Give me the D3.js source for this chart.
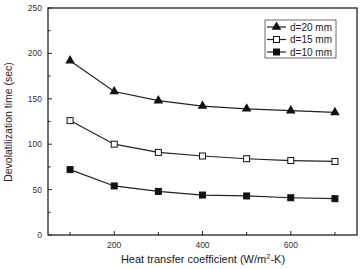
<!DOCTYPE html>
<html>
<head>
<meta charset="utf-8">
<script src="https://cdn.jsdelivr.net/npm/d3@7"></script>
<style>
  body { margin: 0; background: #fff; }
  svg text { font-family: "Liberation Sans", Arial, sans-serif; fill: #222; }
</style>
</head>
<body>
<svg width="362" height="269"></svg>
<script>
var hValues = [100, 200, 300, 400, 500, 600, 700];
var d20 = [192, 158, 148, 142, 139, 137, 135];
var d15 = [126, 100, 91, 87, 84, 82, 81];
var d10 = [72, 54, 48, 44, 43, 41, 40];
var seriesNames = ["d=20 mm", "d=15 mm", "d=10 mm"];
var xTicks = [100, 200, 300, 400, 500, 600, 700];
var xLabels = [200, 400, 600];
var yTicks = [0, 50, 100, 150, 200, 250];
var yMinor = [25, 75, 125, 175, 225];

var svg = d3.select("svg"),
    margin = {top: 8, right: 5, bottom: 34, left: 48},
    width = 362 - margin.left - margin.right,
    height = 269 - margin.top - margin.bottom;

var x = d3.scaleLinear().domain([50, 750]).range([0, width]);
var y = d3.scaleLinear().domain([0, 250]).range([height, 0]);

var g = svg.append("g")
    .attr("transform", "translate(" + margin.left + "," + margin.top + ")");

// frame
g.append("rect")
    .attr("width", width)
    .attr("height", height)
    .attr("fill", "none")
    .attr("stroke", "#222")
    .attr("stroke-width", 1.3);

// x ticks (inward)
g.selectAll(".xtick").data(xTicks).enter().append("line")
    .attr("x1", function(d) { return x(d); })
    .attr("x2", function(d) { return x(d); })
    .attr("y1", height)
    .attr("y2", function(d) { return xLabels.indexOf(d) >= 0 ? height - 4 : height - 3; })
    .attr("stroke", "#222");

g.selectAll(".xlab").data(xLabels).enter().append("text")
    .attr("x", function(d) { return x(d); })
    .attr("y", height + 13)
    .attr("text-anchor", "middle")
    .style("font-size", "8.5px")
    .style("fill", "#333")
    .text(function(d) { return d; });

// y ticks (inward)
g.selectAll(".ytick").data(yTicks).enter().append("line")
    .attr("x1", 0).attr("x2", 4)
    .attr("y1", function(d) { return y(d); })
    .attr("y2", function(d) { return y(d); })
    .attr("stroke", "#222");

g.selectAll(".yminor").data(yMinor).enter().append("line")
    .attr("x1", 0).attr("x2", 2.5)
    .attr("y1", function(d) { return y(d); })
    .attr("y2", function(d) { return y(d); })
    .attr("stroke", "#222");

g.selectAll(".ylab").data(yTicks).enter().append("text")
    .attr("x", -6)
    .attr("y", function(d) { return y(d); })
    .attr("dy", "0.35em")
    .attr("text-anchor", "end")
    .style("font-size", "8.5px")
    .style("fill", "#333")
    .text(function(d) { return d; });

// axis titles
var xt = svg.append("text")
    .attr("x", 203)
    .attr("y", 263)
    .attr("text-anchor", "middle")
    .style("font-size", "11px");
xt.append("tspan").text("Heat transfer coefficient (W/m");
xt.append("tspan").attr("dy", -4).style("font-size", "7.5px").text("2");
xt.append("tspan").attr("dy", 4).text("-K)");

svg.append("text")
    .attr("transform", "translate(12,122) rotate(-90)")
    .attr("text-anchor", "middle")
    .style("font-size", "10.5px")
    .text("Devolatilization time (sec)");

var line = d3.line()
    .x(function(d, i) { return x(hValues[i]); })
    .y(function(d) { return y(d); });

var seriesData = [d20, d15, d10];
var triangle = d3.symbol().type(d3.symbolTriangle).size(40);

function drawMarker(sel, k) {
  if (k === 0) {
    sel.append("path").attr("d", triangle).attr("fill", "#111");
  } else {
    sel.append("rect")
        .attr("x", -3).attr("y", -3)
        .attr("width", 6).attr("height", 6)
        .attr("fill", k === 1 ? "#fff" : "#111")
        .attr("stroke", "#111")
        .attr("stroke-width", 1);
  }
}

seriesData.forEach(function(vals, k) {
  g.append("path")
      .datum(vals)
      .attr("d", line)
      .attr("fill", "none")
      .attr("stroke", "#222")
      .attr("stroke-width", 1.2);
  vals.forEach(function(v, i) {
    var m = g.append("g")
        .attr("transform", "translate(" + x(hValues[i]) + "," + y(v) + ")");
    drawMarker(m, k);
  });
});

// legend
var lg = svg.append("g").attr("transform", "translate(265,20)");
lg.append("rect")
    .attr("width", 71).attr("height", 38)
    .attr("fill", "#fff")
    .attr("stroke", "#444")
    .attr("stroke-width", 0.8);
seriesNames.forEach(function(name, k) {
  var row = lg.append("g").attr("transform", "translate(0," + (7 + k * 12.5) + ")");
  row.append("line")
      .attr("x1", 2).attr("x2", 21)
      .attr("stroke", "#222").attr("stroke-width", 1.2);
  var m = row.append("g").attr("transform", "translate(11.5,0)");
  drawMarker(m, k);
  row.append("text")
      .attr("x", 25)
      .attr("dy", "0.35em")
      .style("font-size", "10px")
      .text(name);
});
</script>
</body>
</html>
